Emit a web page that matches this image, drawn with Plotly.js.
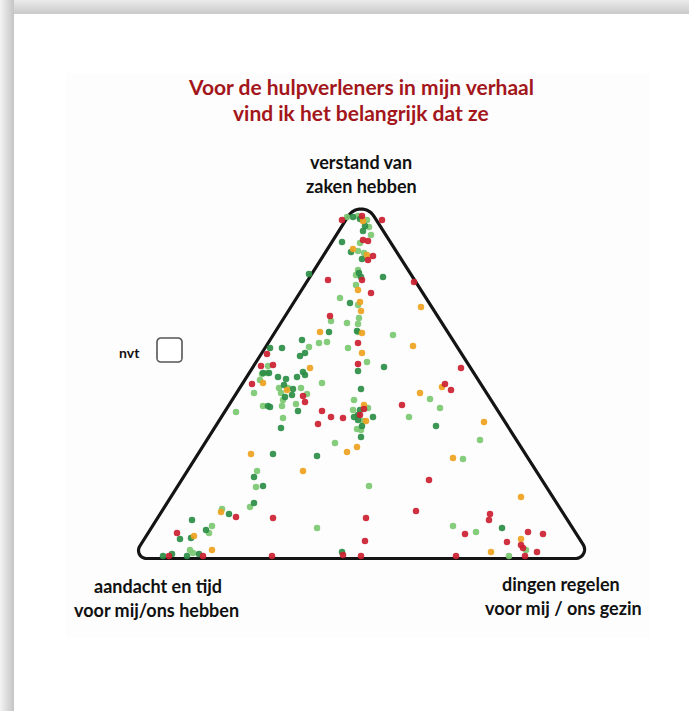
<!DOCTYPE html>
<html><head><meta charset="utf-8">
<script src="https://cdn.plot.ly/plotly-3.0.1.min.js"></script>
<style>html,body{margin:0;padding:0;background:#fff;overflow:hidden}#chart{width:689px;height:711px}</style>
</head><body><div id="chart"></div>
<script>
// Data: positions inside the triangle (x: offset from centre of base, y: height above base)
const redX = [-20,0,20,1,6,11,6,-34,0,52,9,-32,-4,-95,-101,-89,-4,99,-110,83,89,-59,-57,40,-40,2,-31,-19,-44,-2,67,-126,54,-89,4,128,127,-185,103,166,181,145,159,3,-193,-159,-90,-19,-1,94,163,175,161];
const redY = [340,344,340,320,319,304,300,280,280,278,267,244,217,206,194,195,196,192,176,176,170,164,158,155,149,151,143,142,136,145,80,43,49,42,42,46,40,27,26,28,26,18,15,19,4,4,4,5,4,4,4,8,12];
const orangeX = [1,-9,5,-4,-2,59,-1,-42,0,51,0,-52,-99,80,-75,58,2,4,122,-15,-5,-111,91,-59,159,-141,-168,159,-150,129];
const orangeY = [339,311,305,270,258,253,249,228,227,214,207,192,177,173,170,167,155,139,138,108,113,106,102,89,63,48,24,21,10,8];
const lightX = [-15,-4,5,7,9,-2,-4,2,-6,-4,-6,-22,-4,-3,-31,-15,-4,-4,31,-43,-35,-53,-14,5,-94,-95,-100,-102,-40,-74,-61,-108,-81,-55,68,-79,-8,-99,-80,-66,78,-126,-9,6,-79,47,1,-5,-1,118,-27,101,-105,-106,7,-112,-140,91,-45,-150,-153,114,-172,-169,147,164,-83];
const lightY = [343,344,340,333,325,317,309,307,285,290,275,262,255,242,239,237,236,228,225,217,218,213,212,198,194,187,186,180,177,172,172,167,167,166,161,160,160,154,154,156,152,148,150,152,142,143,139,131,130,120,117,101,89,73,74,53,51,34,32,34,27,28,10,7,4,10,172];
const darkX = [-9,-2,3,1,-20,-11,0,-53,-3,-1,21,-12,-33,-5,-60,-92,-80,-57,-62,-4,22,-99,-93,-59,-84,-76,-65,-57,-78,-69,-1,-70,-77,-94,-92,-64,-2,11,-8,-4,-4,0,-81,74,-1,-89,-45,-108,-99,-108,-133,-170,140,-156,-171,-182,-199,-190,-175,-163,-20];
const darkY = [343,341,334,329,318,308,301,286,287,283,283,257,228,229,220,212,212,207,204,189,193,187,187,188,183,181,183,185,175,171,171,165,163,154,153,149,150,143,143,145,140,134,132,134,123,106,104,83,74,57,46,40,32,30,22,21,4,6,4,6,8];

const seriesNames = ['lichtgroen','donkergroen','oranje','rood'];
const seriesColors = ['#7cc872','#2b8d45','#eea21e','#cc1f30'];

const titleLines = ['Voor de hulpverleners in mijn verhaal','vind ik het belangrijk dat ze'];
const topLabel = ['verstand van','zaken hebben'];
const leftLabel = ['aandacht en tijd','voor mij/ons hebben'];
const rightLabel = ['dingen regelen','voor mij / ons gezin'];
const nvtLabel = 'nvt';

// Frame geometry (same units as the data)
const triX = [-1,-230,230], triY = [364,1.5,1.5], triR = [15,8,9];
const boxX = [-205,-180,-180,-205], boxY = [222,222,198,198], boxR = [4,4,4,4];

function roundedPath(xs, ys, rs){
  const pts=[], n=xs.length;
  for(let i=0;i<n;i++){
    const px=xs[(i+n-1)%n], py=ys[(i+n-1)%n], cx=xs[i], cy=ys[i], nx=xs[(i+1)%n], ny=ys[(i+1)%n];
    let ax=px-cx, ay=py-cy; const la=Math.hypot(ax,ay); ax/=la; ay/=la;
    let bx=nx-cx, by=ny-cy; const lb=Math.hypot(bx,by); bx/=lb; by/=lb;
    const ang=Math.acos(ax*bx+ay*by), r=rs[i];
    const d=r/Math.tan(ang/2), h=r/Math.sin(ang/2);
    let mx=ax+bx, my=ay+by; const lm=Math.hypot(mx,my); mx/=lm; my/=lm;
    const ox=cx+mx*h, oy=cy+my*h;
    const a1=Math.atan2(cy+ay*d-oy, cx+ax*d-ox), a2=Math.atan2(cy+by*d-oy, cx+bx*d-ox);
    let da=a2-a1; while(da>Math.PI) da-=2*Math.PI; while(da<-Math.PI) da+=2*Math.PI;
    for(let k=0;k<=16;k++){const a=a1+da*k/16; pts.push([ox+r*Math.cos(a), oy+r*Math.sin(a)]);}
  }
  return 'M '+pts.map(p=>p[0].toFixed(2)+','+p[1].toFixed(2)).join(' L ')+' Z';
}

const X0=-362, X1=327, Y0=-151, Y1=560;
const shapes=[];
// card shadow (top and left bands)
for(let i=0;i<14;i++){
  const vt=Math.round(234-2.4*i);
  shapes.push({type:'rect',xref:'x',yref:'y',x0:X0,x1:X1,y0:Y1-i-1,y1:Y1-i,fillcolor:`rgb(${vt},${vt},${vt})`,line:{width:0},layer:'below'});
}
for(let i=0;i<14;i++){
  const vl=Math.round(242-3.4*i);
  shapes.push({type:'rect',xref:'x',yref:'y',x0:X0+i,x1:X0+i+1,y0:Y0,y1:Y1,fillcolor:`rgb(${vl},${vl},${vl})`,line:{width:0},layer:'below'});
}
// faint inner panel
shapes.push({type:'rect',xref:'x',yref:'y',x0:-296,x1:288,y0:-77,y1:487,fillcolor:'#fdfdfd',line:{width:0},layer:'below'});
// triangle frame
shapes.push({type:'path',xref:'x',yref:'y',path:roundedPath(triX,triY,triR),line:{color:'#141414',width:3.2},layer:'below'});
// nvt checkbox
shapes.push({type:'path',xref:'x',yref:'y',path:roundedPath(boxX,boxY,boxR),line:{color:'#555',width:1.6},fillcolor:'#fff',layer:'below'});

const groups=[[lightX,lightY],[darkX,darkY],[orangeX,orangeY],[redX,redY]];
const traces=groups.map((g,i)=>({type:'scatter',mode:'markers',x:g[0],y:g[1],name:seriesNames[i],
  marker:{size:6.5,color:seriesColors[i],opacity:0.92,line:{width:0}},hoverinfo:'skip'}));

const FONT='Lato, "Open Sans", sans-serif';
function ann(text,x,y,size,color){return {text:'<b>'+text+'</b>',x:x,y:y,xref:'x',yref:'y',showarrow:false,xanchor:'center',yanchor:'middle',font:{family:FONT,size:size,color:color}};}
const annotations=[
  ann(titleLines[0],-1,474,21,'#a3161b'),
  ann(titleLines[1],-1,448,21,'#a3161b'),
  ann(topLabel[0],-1,398,18,'#111'),
  ann(topLabel[1],-1,374,18,'#111'),
  ann(leftLabel[0],-204,-26,18,'#111'),
  ann(leftLabel[1],-206,-50,18,'#111'),
  ann(rightLabel[0],199,-24,18,'#111'),
  ann(rightLabel[1],201,-48,18,'#111'),
  ann(nvtLabel,-233,208,14,'#111')
];

const layout={width:689,height:711,margin:{l:0,r:0,t:0,b:0},paper_bgcolor:'#fff',plot_bgcolor:'#fff',
  showlegend:false,hovermode:false,
  xaxis:{range:[X0,X1],visible:false,fixedrange:true},
  yaxis:{range:[Y0,Y1],visible:false,fixedrange:true},
  shapes:shapes,annotations:annotations};
Plotly.newPlot('chart',traces,layout,{staticPlot:true,displayModeBar:false});
</script></body></html>
